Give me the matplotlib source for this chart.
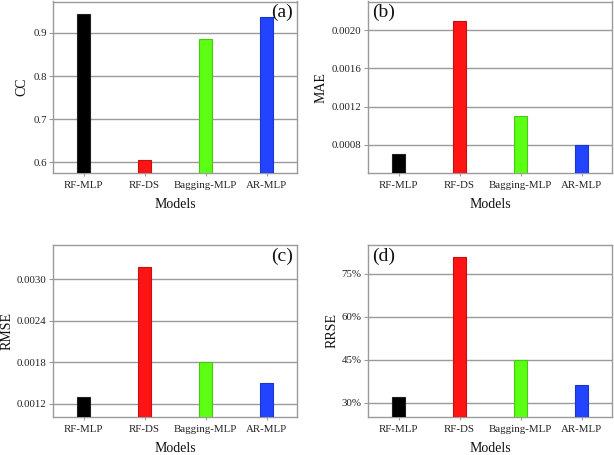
import matplotlib
matplotlib.use("Agg")
import matplotlib.pyplot as plt
from matplotlib.ticker import FixedLocator

models = ["RF-MLP", "RF-DS", "Bagging-MLP", "AR-MLP"]
cc = [0.944, 0.605, 0.886, 0.936]
mae = [0.00070, 0.00210, 0.00110, 0.00080]
rmse = [0.00130, 0.00318, 0.00180, 0.00150]
rrse = [32.1, 80.7, 45.0, 36.3]

bar_colors = ["#000000", "#ff1414", "#5cff14", "#2244ff"]
edge_colors = ["#202020", "#c81010", "#48c810", "#1a36c8"]

plt.rcParams["font.family"] = ["Liberation Serif", "DejaVu Serif"]

fig = plt.figure(figsize=(6.14, 4.55), dpi=100)
W, H = 614, 455

def add_ax(x0, x1, ytop, ybot):
    return fig.add_axes([x0 / W, 1 - ybot / H, (x1 - x0) / W, (ybot - ytop) / H])

panels = [
    (add_ax(53, 297, 1.5, 173), cc, "CC", (0.575, 0.973), [0.6, 0.7, 0.8, 0.9],
     ["0.6", "0.7", "0.8", "0.9"], "(a)", "right", -31),
    (add_ax(368, 612, 1.5, 173), mae, "MAE", (0.000504, 0.0023), [0.0008, 0.0012, 0.0016, 0.0020],
     ["0.0008", "0.0012", "0.0016", "0.0020"], "(b)", "left", -47),
    (add_ax(53, 297, 245, 417), rmse, "RMSE", (0.001007, 0.0035), [0.0012, 0.0018, 0.0024, 0.0030],
     ["0.0012", "0.0018", "0.0024", "0.0030"], "(c)", "right", -46),
    (add_ax(368, 612, 245, 417), rrse, "RRSE", (25.1, 85.0), [30, 45, 60, 75],
     ["30%", "45%", "60%", "75%"], "(d)", "left", -36),
]

x = list(range(len(models)))
for ax, vals, ylabel, ylim, yt, ytl, tag, side, ylab_off in panels:
    ax.set_axisbelow(True)
    ax.bar(x, vals, width=0.2, color=bar_colors, edgecolor=edge_colors, linewidth=0.8, zorder=3)
    ax.set_xlim(-0.5, 3.5)
    ax.set_ylim(*ylim)
    ax.yaxis.set_major_locator(FixedLocator(yt))
    ax.set_yticklabels(ytl)
    ax.set_xticks(x)
    ax.set_xticklabels(models)
    ax.grid(axis="y", color="#9a9a9a", linewidth=1.0)
    for s in ax.spines.values():
        s.set_color("#9a9a9a")
        s.set_linewidth(1.0)
    ax.tick_params(axis="both", colors="#9a9a9a", labelcolor="#222222", labelsize=7.8,
                   width=0.8)
    ax.tick_params(axis="y", length=3, pad=1.5)
    ax.tick_params(axis="x", direction="inout", length=5, pad=3)
    ax.set_xlabel("Models", fontsize=10, color="#111111", labelpad=6)
    ax.set_ylabel(ylabel, fontsize=10, color="#111111", va="center")
    bb = ax.get_position()
    ax.yaxis.set_label_coords(ylab_off / (bb.width * W), 0.5)
    if side == "right":
        ax.text(0.985, 0.985, tag, transform=ax.transAxes, ha="right", va="top", fontsize=14, color="#111111")
    else:
        ax.text(0.015, 0.985, tag, transform=ax.transAxes, ha="left", va="top", fontsize=14, color="#111111")

fig.savefig("out.png", dpi=100)
